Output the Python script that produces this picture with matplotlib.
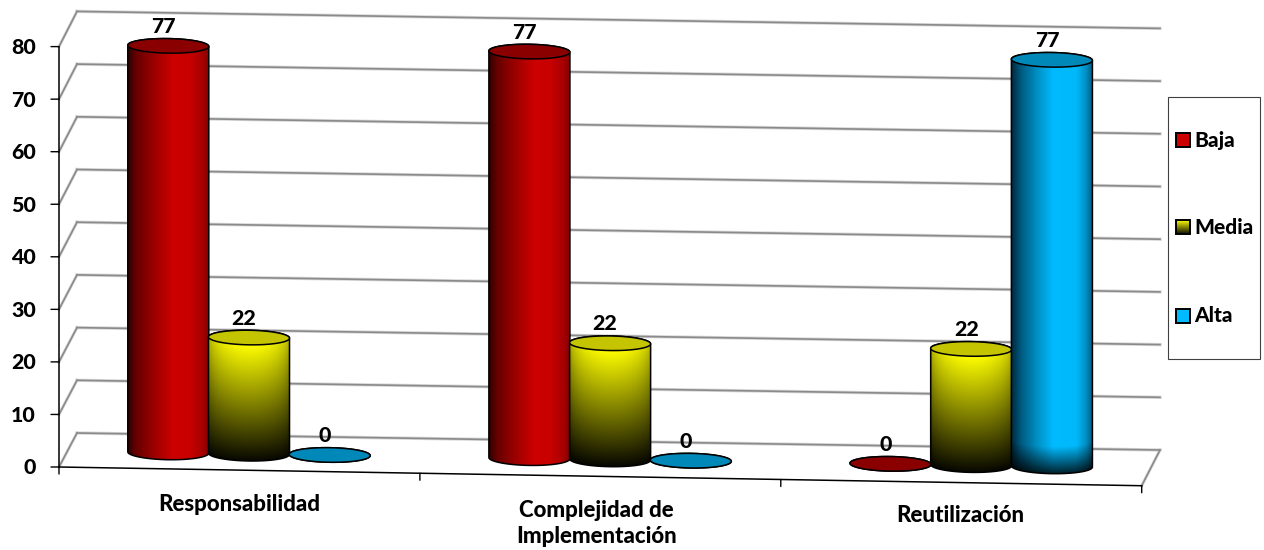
import numpy as np
import matplotlib
matplotlib.use("Agg")
import matplotlib.pyplot as plt
from matplotlib.path import Path
from matplotlib.patches import PathPatch, Rectangle
from matplotlib.transforms import Affine2D

plt.rcParams['font.family'] = ['Lato', 'DejaVu Sans']
plt.rcParams['font.weight'] = 'bold'

categorias = ["Responsabilidad", "Complejidad de\nImplementación", "Reutilización"]
series = ["Baja", "Media", "Alta"]
baja = [77, 77, 0]
media = [22, 22, 22]
alta = [0, 0, 77]
ticks_y = [0, 10, 20, 30, 40, 50, 60, 70, 80]

ANCHO = 1264
ALTO = 550
TAM = 15.4
TAM_CAT = 16

fig = plt.figure(figsize=(ANCHO / 100, ALTO / 100), dpi=100, facecolor='white')
ax = fig.add_axes([0, 0, 1, 1])
ax.set_xlim(0, ANCHO)
ax.set_ylim(ALTO, 0)
ax.axis('off')


def plano(x0, y0, dx, dy, escala):
    # categoria/valor -> pixel, el eje x baja un poco hacia la derecha
    return Affine2D.from_values(dx, dy, 0, -escala, x0, y0)


m_frente = plano(59, 467, 360.9, 6.24, 5.255)
m_fondo = plano(77, 433, 361.0, 5.67, 5.27)
frente = m_frente + ax.transData
fondo = m_fondo + ax.transData
barras = plano(68.45, 450.85, 361.1, 5.7, 5.28) + ax.transData

GRIS = '#8a8a8a'
HALO = '#d8d8d8'

# paredes: lineas de division y borde del piso
for v in ticks_y:
    ax.plot([0, 3], [v, v], color=HALO, lw=2.4, transform=fondo, zorder=1)
    ax.plot([0, 3], [v, v], color=GRIS, lw=1.2, transform=fondo, zorder=1.1)
    xa, ya = m_frente.transform((0, v))
    xb, yb = m_fondo.transform((0, v))
    ax.plot([xa, xb], [ya, yb], color=HALO, lw=2.2, zorder=1)
    ax.plot([xa, xb], [ya, yb], color=GRIS, lw=1.2, zorder=1.1)
xa, ya = m_frente.transform((3, 0))
xb, yb = m_fondo.transform((3, 0))
ax.plot([xa, xb], [ya, yb], color=HALO, lw=2.2, zorder=1)
ax.plot([xa, xb], [ya, yb], color=GRIS, lw=1.2, zorder=1.1)

# ejes
ax.plot([0, 0], [0, 80], color='black', lw=1.1, transform=frente, zorder=2)
ax.plot([0, 3], [0, 0], color='black', lw=1.1, transform=frente, zorder=2)
for v in ticks_y:
    ax.annotate('', xy=(0, v), xycoords=frente, xytext=(-8, 0), textcoords='offset pixels',
                arrowprops=dict(arrowstyle='-', color='black', lw=1.0, shrinkA=0, shrinkB=0))
    ax.annotate(str(v), xy=(0, v), xycoords=frente, xytext=(-23, -1), textcoords='offset pixels',
                ha='right', va='center', fontsize=TAM, fontweight=900, color='black')
for c in range(4):
    ax.annotate('', xy=(c, 0), xycoords=frente, xytext=(0, -7), textcoords='offset pixels',
                arrowprops=dict(arrowstyle='-', color='black', lw=1.0, shrinkA=0, shrinkB=0))

desplaza = [(0, -24), (-4, -24), (-1, -22)]
for i, nombre in enumerate(categorias):
    ax.annotate(nombre, xy=(i + 0.5, 0), xycoords=frente, xytext=desplaza[i], textcoords='offset pixels',
                ha='center', va='top', fontsize=TAM_CAT, fontweight=900, color='black', linespacing=1.3)


def rampa(u, stops):
    pos = [s[0] for s in stops]
    return np.stack([np.interp(u, pos, [s[1][k] for s in stops]) for k in range(3)], axis=-1)


def rgb(h):
    return matplotlib.colors.to_rgb(h)


RAMPA_ROJO = [(0, rgb('#300000')), (0.1, rgb('#680000')), (0.3, rgb('#980000')), (0.55, rgb('#cc0000')),
              (0.75, rgb('#c80000')), (0.9, rgb('#aa0000')), (1, rgb('#800000'))]
RAMPA_AZUL = [(0, rgb('#00283c')), (0.12, rgb('#005a80')), (0.32, rgb('#0090c4')), (0.52, rgb('#00bbff')),
              (0.8, rgb('#00b8fa')), (0.92, rgb('#0090c4')), (1, rgb('#005a80'))]


def textura(valor, e, estilo):
    # relleno del cilindro, una fila por cada pixel aprox.
    cols, filas = 90, max(int(valor * 5.3) + 20, 20)
    u = np.linspace(-1, 1, cols)
    y = np.linspace(-e, valor + e, filas)
    uu, yy = np.meshgrid(u, y)
    curva = e * np.sqrt(1 - uu ** 2)
    if estilo == 'amarillo':
        t = np.clip((yy + curva) / np.maximum(valor, 1e-6), 0, 1)
        lado = 0.62 + 0.38 * np.sqrt(1 - uu ** 2)
        img = np.zeros(uu.shape + (3,))
        img[..., 0] = (0.03 + 0.97 * t) * lado
        img[..., 1] = (0.03 + 0.97 * t) * lado
        return img
    img = rampa((uu + 1) / 2, RAMPA_ROJO if estilo == 'rojo' else RAMPA_AZUL)
    if estilo == 'azul':
        # oscurece el pie del cilindro
        img = img * (0.2 + 0.8 * np.clip((yy + curva) / 5.0, 0, 1))[..., None]
    return img


def cilindro(c, valor, estilo, tapa, z):
    hw = 0.1122
    e = 1.38
    t = np.linspace(0, np.pi, 60)
    pie = np.column_stack([c - hw * np.cos(t), -e * np.sin(t)])
    arco = np.column_stack([c + hw * np.cos(t), valor + e * np.sin(t)])
    verts = np.vstack([pie, arco, pie[:1]])
    cuerpo = PathPatch(Path(verts), transform=barras, facecolor='none', edgecolor='black', lw=1.1, zorder=z + 0.2)
    ax.add_patch(cuerpo)
    im = ax.imshow(textura(valor, e, estilo), extent=(c - hw, c + hw, -e, valor + e), origin='lower',
                   aspect='auto', transform=barras, zorder=z, interpolation='bilinear')
    im.set_clip_path(cuerpo)
    t = np.linspace(0, 2 * np.pi, 120)
    ax.add_patch(PathPatch(Path(np.column_stack([c + hw * np.cos(t), valor + e * np.sin(t)])), transform=barras,
                           facecolor=tapa, edgecolor='black', lw=1.1, zorder=z + 0.3))
    ax.annotate(str(valor), xy=(c, valor), xycoords=barras, xytext=(-5, 19.5), textcoords='offset pixels',
                ha='center', va='center', fontsize=TAM, fontweight=900, color='black', zorder=50)


SEP = 0.2235
estilos = [('rojo', '#8a0000'), ('amarillo', '#c4c400'), ('azul', '#0088b8')]
z = 5
for i in range(len(categorias)):
    for j, valores in enumerate([baja, media, alta]):
        cilindro(i + 0.5 + (j - 1) * SEP, valores[i], estilos[j][0], estilos[j][1], z)
        z += 1

# leyenda
ax.add_patch(Rectangle((1167.5, 96.5), 92, 262, facecolor='white', edgecolor='#404040', lw=0.8, zorder=60))
centros = [140, 227, 315.5]
gradiente = np.zeros((40, 1, 3))
gradiente[..., :2] = np.linspace(1, 0.05, 40)[:, None, None]
for nombre, yc, color in zip(series, centros, ['#cc0000', None, '#00bbff']):
    caja = Rectangle((1176, yc - 7), 14, 14, facecolor=color or 'none', edgecolor='black', lw=1.4, zorder=62)
    ax.add_patch(caja)
    if color is None:
        ax.imshow(gradiente, extent=(1176, 1190, yc + 7, yc - 7), aspect='auto', zorder=61)
    ax.text(1194, yc, nombre, ha='left', va='center', fontsize=TAM - 0.4, fontweight=900, color='black', zorder=63)

ax.set_xlim(0, ANCHO)
ax.set_ylim(ALTO, 0)
fig.savefig('out.png', dpi=100)
